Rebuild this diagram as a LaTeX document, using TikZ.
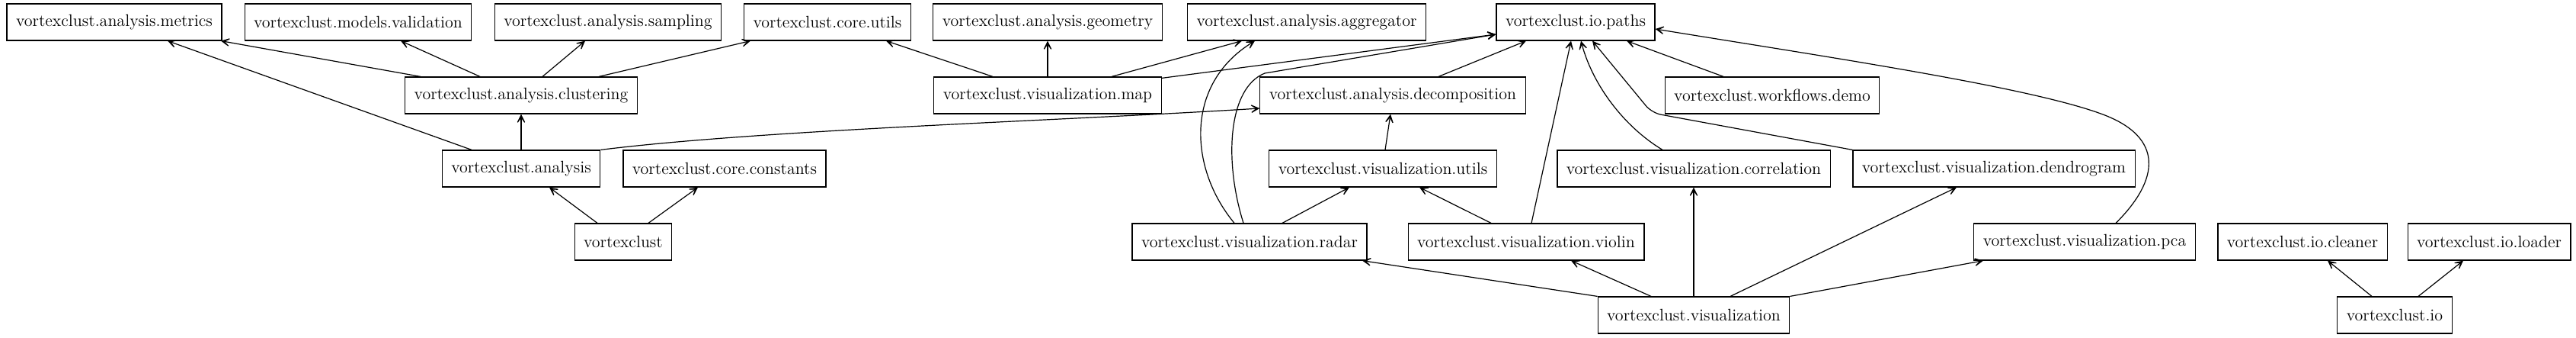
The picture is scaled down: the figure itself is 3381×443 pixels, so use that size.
\documentclass[tikz,border=0pt]{standalone}
\usetikzlibrary{arrows.meta}
\begin{document}
\begin{tikzpicture}[x=0.5pt,y=-0.5pt,
  mod/.style={draw=black,line width=0.6pt,fill=white,minimum height=24pt,inner xsep=6pt,inner ysep=0pt,
    font=\fontsize{11}{13}\selectfont},
  dep/.style={draw=black,line width=0.6pt,-{Stealth[length=9pt,width=9pt,inset=6.5pt]}}]
\useasboundingbox (0,0) rectangle (3381,443);
% row 1
\node[mod] (metrics) at (150,29) {vortexclust.analysis.metrics};
\node[mod] (validation) at (470,29) {vortexclust.models.validation};
\node[mod] (sampling) at (798,29) {vortexclust.analysis.sampling};
\node[mod] (coreutils) at (1086,29) {vortexclust.core.utils};
\node[mod] (geometry) at (1375,29) {vortexclust.analysis.geometry};
\node[mod] (aggregator) at (1715,29) {vortexclust.analysis.aggregator};
\node[mod] (paths) at (2068,29) {vortexclust.io.paths};
% row 2
\node[mod] (clustering) at (684,125) {vortexclust.analysis.clustering};
\node[mod] (map) at (1375,125) {vortexclust.visualization.map};
\node[mod] (decomp) at (1828,125) {vortexclust.analysis.decomposition};
\node[mod] (demo) at (2326,125) {vortexclust.workflows.demo};
% row 3
\node[mod] (analysis) at (684,221) {vortexclust.analysis};
\node[mod] (constants) at (951,221) {vortexclust.core.constants};
\node[mod] (vutils) at (1815,221) {vortexclust.visualization.utils};
\node[mod] (correlation) at (2223,221) {vortexclust.visualization.correlation};
\node[mod] (dendrogram) at (2617,221) {vortexclust.visualization.dendrogram};
% row 4
\node[mod] (vortexclust) at (818,317) {vortexclust};
\node[mod] (radar) at (1640,317) {vortexclust.visualization.radar};
\node[mod] (violin) at (2003,317) {vortexclust.visualization.violin};
\node[mod] (pca) at (2736,317) {vortexclust.visualization.pca};
\node[mod] (cleaner) at (3022,317) {vortexclust.io.cleaner};
\node[mod] (loader) at (3267,317) {vortexclust.io.loader};
% row 5
\node[mod] (visualization) at (2223,413) {vortexclust.visualization};
\node[mod] (io) at (3143,413) {vortexclust.io};
% edges
\draw[dep] ([xshift=-66pt]clustering.north) -- ([xshift=70pt]metrics.south);
\draw[dep] ([xshift=-32.5pt]analysis.north) -- ([xshift=35pt]metrics.south);
\draw[dep] ([xshift=-27pt]clustering.north) -- ([xshift=28pt]validation.south);
\draw[dep] ([xshift=14pt]clustering.north) -- ([xshift=-15pt]sampling.south);
\draw[dep] ([xshift=51pt]clustering.north) -- ([xshift=-50.5pt]coreutils.south);
\draw[dep] (analysis.north) -- (clustering.south);
\draw[dep] (analysis.north east) .. controls (1000,170) and (1400,158) .. ([yshift=-8.5pt]decomp.west);
\draw[dep] ([xshift=-17pt]vortexclust.north) -- ([xshift=18.5pt]analysis.south);
\draw[dep] ([xshift=16.5pt]vortexclust.north) -- ([xshift=-17.5pt]constants.south);
\draw[dep] ([xshift=-36pt]map.north) -- ([xshift=38.5pt]coreutils.south);
\draw[dep] (map.north) -- (geometry.south);
\draw[dep] ([xshift=42pt]map.north) -- ([xshift=-42.5pt]aggregator.south);
\draw[dep] ([yshift=-1pt]map.north east) -- ([yshift=-8pt]paths.west);
\draw[dep] ([xshift=-10pt]radar.north) .. controls (1560,220) and (1555,110) .. ([xshift=-34pt]aggregator.south);
\coordinate (rbend) at (1660,96);
\draw[dep] ([xshift=-4pt]radar.north) .. controls (1606,210) and (1612,115) .. (rbend) -- ([yshift=-8pt]paths.west);
\draw[dep] ([xshift=30pt]decomp.north) -- ([xshift=-32.5pt]paths.south);
\draw[dep] ([xshift=1.5pt]vutils.north) -- ([xshift=-1.5pt]decomp.south);
\draw[dep] ([xshift=21.5pt]radar.north) -- ([xshift=-22pt]vutils.south);
\draw[dep] ([xshift=-23pt]violin.north) -- ([xshift=24pt]vutils.south);
\draw[dep] ([xshift=3.5pt]violin.north) -- ([xshift=-3pt]paths.south);
\draw[dep] ([xshift=-20.5pt]correlation.north) .. controls (2130,165) and (2090,110) .. ([xshift=3.5pt]paths.south);
\coordinate (dbend) at (2168,148);
\draw[dep,rounded corners=6pt] (dendrogram.north west) -- (dbend) -- ([xshift=11pt]paths.south);
\draw[dep] ([xshift=-32pt]demo.north) -- ([xshift=33.5pt]paths.south);
\coordinate (pbend) at (2760,150);
\draw[dep] ([xshift=20.5pt]pca.north) .. controls (2835,235) and (2840,180) .. (pbend)
  .. controls (2664,114) and (2400,75) .. ([yshift=-4.5pt]paths.east);
\draw[dep] (visualization.north west) -- ([xshift=74pt]radar.south);
\draw[dep] ([xshift=-28pt]visualization.north) -- ([xshift=29.5pt]violin.south);
\draw[dep] (visualization.north) -- (correlation.south);
\draw[dep] ([xshift=24pt]visualization.north) -- ([xshift=-24.5pt]dendrogram.south);
\draw[dep] (visualization.north east) -- ([xshift=-66.5pt]pca.south);
\draw[dep] ([xshift=-15pt]io.north) -- ([xshift=16.5pt]cleaner.south);
\draw[dep] ([xshift=15.5pt]io.north) -- ([xshift=-17pt]loader.south);
\end{tikzpicture}
\end{document}
